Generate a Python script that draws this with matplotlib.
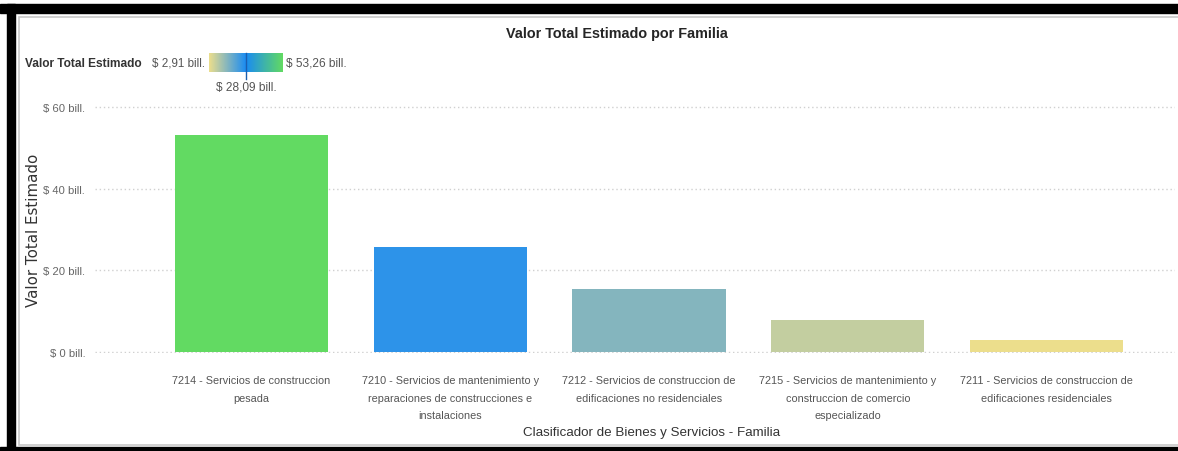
import matplotlib.pyplot as plt
import numpy as np
from matplotlib.colors import LinearSegmentedColormap
from matplotlib.patches import Rectangle

# Data
categories = ['7214 - Servicios de construccion\npesada',
              '7210 - Servicios de mantenimiento y\nreparaciones de construcciones e\ninstalaciones',
              '7212 - Servicios de construccion de\nedificaciones no residenciales',
              '7215 - Servicios de mantenimiento y\nconstruccion de comercio\nespecializado',
              '7211 - Servicios de construccion de\nedificaciones residenciales']
values = [53.26, 25.8, 15.4, 7.85, 2.91]
y_ticks = [0, 20, 40, 60]
y_tick_labels = ['$ 0 bill.', '$ 20 bill.', '$ 40 bill.', '$ 60 bill.']
vmin, vmid, vmax = 2.91, 28.09, 53.26

narrow = 'Liberation Sans'
W, H = 1178, 452

# diverging colour scale: yellow -> blue -> green
mid_frac = (vmid - vmin) / (vmax - vmin)
cmap = LinearSegmentedColormap.from_list(
    'pbi', [(0, '#ECDE8C'), (mid_frac, '#1A8CF2'), (1, '#62DA62')])

fig = plt.figure(figsize=(W / 100, H / 100), dpi=100)

def fx(px):
    return px / W

def fy(py):
    return 1 - py / H

# frame: black bands and light grey inner border
fig.patches.append(Rectangle((0, fy(14)), 1, 9 / H, transform=fig.transFigure,
                             color='black', zorder=-5))
fig.patches.append(Rectangle((fx(7), 0), fx(8), 1 - 5 / H, transform=fig.transFigure,
                             color='black', zorder=-5))
fig.patches.append(Rectangle((0, 0), 1, 4 / H, transform=fig.transFigure,
                             color='black', zorder=-5))
fig.patches.append(Rectangle((fx(19), fy(446)), 1 - fx(19) + 0.01, fy(18) - fy(446),
                             transform=fig.transFigure, facecolor='white',
                             edgecolor='#c8c8c8', linewidth=1.2, zorder=-4))

ax = fig.add_axes([fx(95), fy(354), fx(1175) - fx(95), fy(107) - fy(354)])
ax.set_facecolor('none')
x_pos = np.arange(len(categories))
colors = [cmap((v - vmin) / (vmax - vmin)) for v in values]
ax.bar(x_pos, values, width=0.77, color=colors, zorder=3)

ax.set_xlim(-(251.5 - 95) / 199, 4 + (1175 - 1046.5) / 199)
ax.set_ylim(-0.25, 60.25)
ax.set_yticks(y_ticks)
ax.set_yticklabels(y_tick_labels, family=narrow, fontsize=8.1, color='#666666')
ax.set_xticks(x_pos)
ax.set_xticklabels(categories, family=narrow, fontsize=7.85, color='#555555', linespacing=1.95)
ax.tick_params(axis='both', length=0)
ax.tick_params(axis='y', pad=7)
ax.tick_params(axis='x', pad=16)
for s in ax.spines.values():
    s.set_visible(False)
ax.grid(axis='y', linestyle=(0, (1, 2)), color='#d0d0d0', linewidth=1, zorder=0)

# texts
fig.text(fx(617), fy(34), 'Valor Total Estimado por Familia', family=narrow, fontsize=10.4,
         fontweight='bold', color='#252525', ha='center', va='center')
fig.text(fx(652), fy(433), 'Clasificador de Bienes y Servicios - Familia', family=narrow,
         fontsize=9.65, color='#333333', ha='center', va='center')
fig.text(fx(34), fy(230), 'Valor Total Estimado', family='DejaVu Sans', fontsize=10.8,
         color='#333333', rotation=90, ha='center', va='center')

# gradient legend
fig.text(fx(25), fy(64), 'Valor Total Estimado', family=narrow, fontsize=8.6,
         fontweight='bold', color='#333333', ha='left', va='center')
fig.text(fx(205), fy(64), '$ 2,91 bill.', family=narrow, fontsize=8.4,
         color='#555555', ha='right', va='center')
fig.text(fx(286), fy(64), '$ 53,26 bill.', family=narrow, fontsize=8.6,
         color='#555555', ha='left', va='center')
fig.text(fx(246), fy(88), '$ 28,09 bill.', family=narrow, fontsize=8.6,
         color='#555555', ha='center', va='center')
lax = fig.add_axes([fx(209), fy(73), fx(283) - fx(209), fy(54) - fy(73)])
grad = np.linspace(0, 1, 256).reshape(1, -1)
lax.imshow(grad, aspect='auto', cmap=cmap, extent=[vmin, vmax, 0, 1])
lax.axis('off')
fig.add_artist(plt.Line2D([fx(246), fx(246)], [fy(54), fy(80)], transform=fig.transFigure,
                          color='#1a5fb0', linewidth=1))

plt.savefig('out.png', dpi=100)
